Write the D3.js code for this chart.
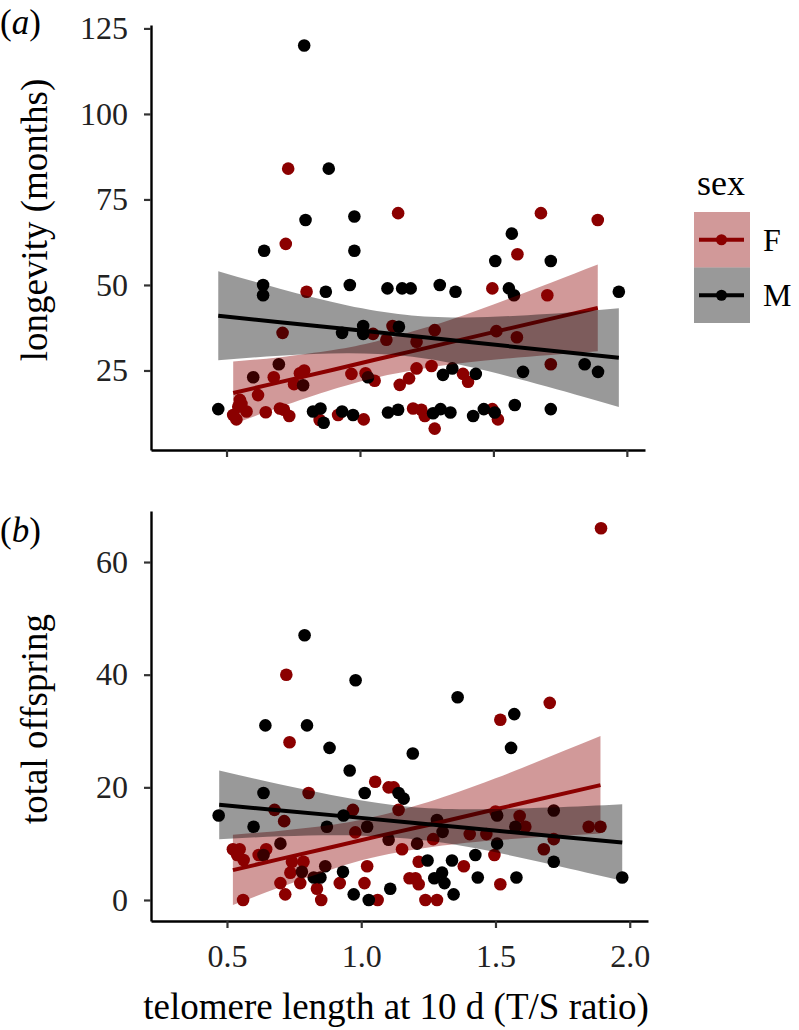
<!DOCTYPE html>
<html lang="en">
<head>
<meta charset="UTF-8">
<title>telomere length vs longevity and offspring</title>
<script src="https://d3js.org/d3.v7.min.js"></script>
<style>
  body { margin: 0; background: #fff; }
  svg text { font-family: "Liberation Serif", "Times New Roman", serif; }
  .tick text { fill: #222; }
  .tick line { stroke: #333; }
</style>
</head>
<body>
<script>
// ---- data ----
// panel (a): [telomere T/S ratio, longevity in months]
const longevityF = [
  [0.731,84],[1.143,71],[1.678,71],[1.891,69],[0.722,62],[1.590,59],[0.800,48],[1.496,49],
  [1.702,47],[0.710,36],[1.049,35.7],[1.122,38],[1.099,34],[1.280,36.8],[1.511,36.5],[1.588,34.7],
  [1.212,33.4],[0.677,23],[0.775,24.2],[0.791,25],[0.753,21],[0.968,24],[1.021,24.2],[1.055,22],
  [1.149,20.8],[1.184,22.7],[1.212,25.6],[1.268,26.3],[1.386,24],[1.405,21.7],[1.715,26.8],[0.618,17.8],
  [0.550,16.4],[0.544,14.4],[0.556,15.2],[0.525,12],[0.537,10.7],[0.575,13],[0.647,12.8],[0.700,13.9],
  [0.715,13.5],[0.735,11.7],[0.849,10.5],[0.918,12],[1.014,10.7],[1.199,13.9],[1.230,13.5],[1.243,11.7],
  [1.280,8],[1.496,13.7],[1.517,10.7]
];
const longevityM = [
  [0.791,120],[0.883,84],[0.796,69],[0.979,70],[1.569,65],[0.641,60],[0.979,60],[1.507,57],
  [1.715,57],[0.637,50],[0.637,47],[0.872,48],[0.962,50],[1.103,49],[1.158,49],[1.190,49],
  [1.299,50],[1.358,48],[1.558,49],[1.577,47],[1.970,48],[0.933,36],[1.012,38],[1.012,35.7],
  [1.146,37.8],[0.696,26.8],[0.600,23],[0.787,20.7],[1.030,23],[1.611,24.6],[1.842,26.8],[1.892,24.6],
  [1.346,25.6],[1.311,23.7],[1.434,24],[0.469,13.7],[0.824,13],[0.852,13.9],[0.864,9.7],[0.933,13],
  [0.974,12],[1.105,12.7],[1.143,13.5],[1.274,12.5],[1.302,13.7],[1.339,12.7],[1.424,11.7],[1.464,13.7],
  [1.505,12.7],[1.580,14.9],[1.715,13.7]
];
// panel (b): [telomere T/S ratio, total offspring]
const offspringF = [
  [1.893,66],[0.721,40],[1.702,35],[1.518,32],[0.733,28],[1.052,21],[1.102,20],[1.121,20],
  [0.804,19],[0.677,16],[0.713,14],[0.969,16],[0.978,12],[1.139,16],[0.522,9],[0.547,9],
  [0.562,7.1],[0.538,8],[0.560,0],[0.646,9],[0.618,8],[0.742,6.8],[0.785,6.8],[0.736,4.85],
  [0.699,3],[0.773,3],[0.717,1],[0.835,2],[0.851,0],[0.920,3],[1.022,6],[1.012,3],
  [1.061,0],[1.152,9],[1.214,6.8],[1.180,3.85],[1.202,3.85],[1.214,2.8],[1.239,0],[1.282,0],
  [1.268,10.8],[1.404,11.7],[1.382,6],[1.496,8],[1.518,2.8],[1.500,15.7],[1.590,14.9],[1.611,13],
  [1.680,9],[1.717,10.8],[1.847,13],[1.891,13],[1.466,11.7]
];
const offspringM = [
  [0.789,47],[0.979,39],[1.359,36],[1.570,33],[0.643,31],[0.798,31],[0.882,27],[1.558,27],
  [1.192,26],[0.957,23],[1.139,19],[1.158,18],[0.636,19],[1.013,19],[0.469,15],[0.599,13],
  [0.934,15],[0.872,13],[1.022,13],[0.636,8],[0.699,10],[0.779,5],[0.823,4],[0.848,4],
  [0.866,6],[0.932,5],[0.972,1],[1.028,0],[1.102,10.7],[1.108,2],[1.208,10],[1.247,7],
  [1.272,3.85],[1.301,4.85],[1.310,3],[1.338,7],[1.344,1],[1.282,14.2],[1.303,12.1],[1.425,8],
  [1.434,4],[1.506,15],[1.506,10],[1.578,4],[1.574,13],[1.717,15.9],[1.717,6.8],[1.972,4]
];
// linear fits with 95% band: [x, lower, fit, upper]
const longevityFitF = [[0.525,9.3,18.4,27.6],[0.7,14.3,21.6,28.9],[0.9,19.5,25.2,31.0],[1.06,22.9,28.2,33.5],[1.25,25.7,31.6,37.6],[1.5,28.1,36.2,44.3],[1.891,30.6,43.3,56.0]];
const longevityFitM = [[0.469,28.0,41.0,54.0],[0.7,29.3,39.1,48.9],[0.95,30.0,37.1,44.1],[1.17,29.2,35.3,41.3],[1.4,26.2,33.4,40.5],[1.7,20.3,30.9,41.5],[1.97,14.3,28.7,43.2]];
const offspringFitF = [[0.522,-0.9,5.3,11.6],[0.7,2.3,7.3,12.3],[0.9,5.6,9.5,13.4],[1.06,7.7,11.3,14.9],[1.25,9.3,13.3,17.4],[1.5,10.6,16.1,21.6],[1.891,11.8,20.4,29.1]];
const offspringFitM = [[0.471,10.8,16.9,23.0],[0.7,11.3,15.9,20.5],[0.95,11.5,14.8,18.1],[1.17,10.9,13.8,16.6],[1.4,9.4,12.8,16.1],[1.7,6.4,11.4,16.4],[1.972,3.4,10.2,17.0]];

const xTicks = [0.5, 1.0, 1.5, 2.0];
const longevityTicks = [25, 50, 75, 100, 125];
const offspringTicks = [0, 20, 40, 60];
const sexes = ["F", "M"];
const sexColor = {F: "#8b0000", M: "#000000"};

// ---- layout ----
const width = 799, height = 1030;
const left = 151;
const svg = d3.select("body").append("svg")
  .attr("width", width).attr("height", height)
  .attr("viewBox", [0, 0, width, height]);

function drawPanel(opts) {
  const x = d3.scaleLinear().domain([0.217, 2.068]).range([left, opts.right]);
  const y = d3.scaleLinear().domain(opts.yDomain).range([opts.bottom, opts.top]);
  const g = svg.append("g");

  // points first, smooths on top (as in ggplot)
  const pts = g.append("g");
  [["F", opts.pointsF], ["M", opts.pointsM]].forEach(([s, arr]) => {
    pts.selectAll(null).data(arr).join("circle")
      .attr("cx", d => x(d[0])).attr("cy", d => y(d[1]))
      .attr("r", 6.3).attr("fill", sexColor[s]);
  });

  const area = d3.area().curve(d3.curveNatural)
    .x(d => x(d[0])).y0(d => y(d[1])).y1(d => y(d[3]));
  const line = d3.line().x(d => x(d[0])).y(d => y(d[2]));
  [["F", opts.fitF], ["M", opts.fitM]].forEach(([s, fit]) => {
    g.append("path").attr("d", area(fit))
      .attr("fill", sexColor[s]).attr("fill-opacity", 0.4);
    g.append("path").attr("d", line(fit))
      .attr("fill", "none").attr("stroke", sexColor[s]).attr("stroke-width", 4);
  });

  // axes
  const yAxis = g.append("g").attr("transform", `translate(${left},0)`)
    .call(d3.axisLeft(y).tickValues(opts.yTicks).tickSize(7).tickSizeOuter(0).tickPadding(16));
  const xAxis = g.append("g").attr("transform", `translate(0,${opts.bottom})`)
    .call(d3.axisBottom(x).tickValues(xTicks).tickSize(7).tickSizeOuter(0).tickPadding(16)
      .tickFormat(opts.xLabels ? d3.format(".1f") : () => ""));
  [yAxis, xAxis].forEach(a => {
    a.select(".domain").attr("stroke", "#000").attr("stroke-width", 2.4);
    a.selectAll(".tick line").attr("stroke-width", 2.2);
    a.selectAll(".tick text").attr("font-size", 32)
      .attr("font-family", "Liberation Serif, serif");
  });

  // y title
  svg.append("text")
    .attr("transform", `translate(47,${opts.titleY}) rotate(-90)`)
    .attr("text-anchor", "middle").attr("font-size", 37)
    .text(opts.yTitle);

  // panel letter
  const lab = svg.append("text").attr("x", 0).attr("y", opts.letterY).attr("font-size", 35);
  lab.append("tspan").text("(");
  lab.append("tspan").attr("font-style", "italic").text(opts.letter);
  lab.append("tspan").text(")");
}

drawPanel({
  top: 25, bottom: 450, right: 645, yDomain: [1.75, 126.0],
  pointsF: longevityF, pointsM: longevityM, fitF: longevityFitF, fitM: longevityFitM,
  yTicks: longevityTicks, xLabels: false, yTitle: "longevity (months)", titleY: 220,
  letter: "a", letterY: 34
});
drawPanel({
  top: 511, bottom: 921, right: 648, yDomain: [-3.73, 69.06],
  pointsF: offspringF, pointsM: offspringM, fitF: offspringFitF, fitM: offspringFitM,
  yTicks: offspringTicks, xLabels: true, yTitle: "total offspring", titleY: 719,
  letter: "b", letterY: 542
});

// x title
svg.append("text").attr("x", 396).attr("y", 1019)
  .attr("text-anchor", "middle").attr("font-size", 37)
  .text("telomere length at 10 d (T/S ratio)");

// legend
const legend = svg.append("g");
legend.append("text").attr("x", 697).attr("y", 195).attr("font-size", 36).text("sex");
sexes.forEach((s, i) => {
  const ky = 212 + i * 55.5;
  const k = legend.append("g");
  k.append("rect").attr("x", 694).attr("y", ky).attr("width", 56).attr("height", 55.5)
    .attr("fill", sexColor[s]).attr("fill-opacity", 0.4);
  k.append("line").attr("x1", 699).attr("x2", 744).attr("y1", ky + 27.75).attr("y2", ky + 27.75)
    .attr("stroke", sexColor[s]).attr("stroke-width", 4);
  k.append("circle").attr("cx", 721.5).attr("cy", ky + 27.75).attr("r", 5.5).attr("fill", sexColor[s]);
  k.append("text").attr("x", 763).attr("y", ky + 27.75).attr("dy", "0.35em")
    .attr("font-size", 32).text(s);
});
</script>
</body>
</html>
